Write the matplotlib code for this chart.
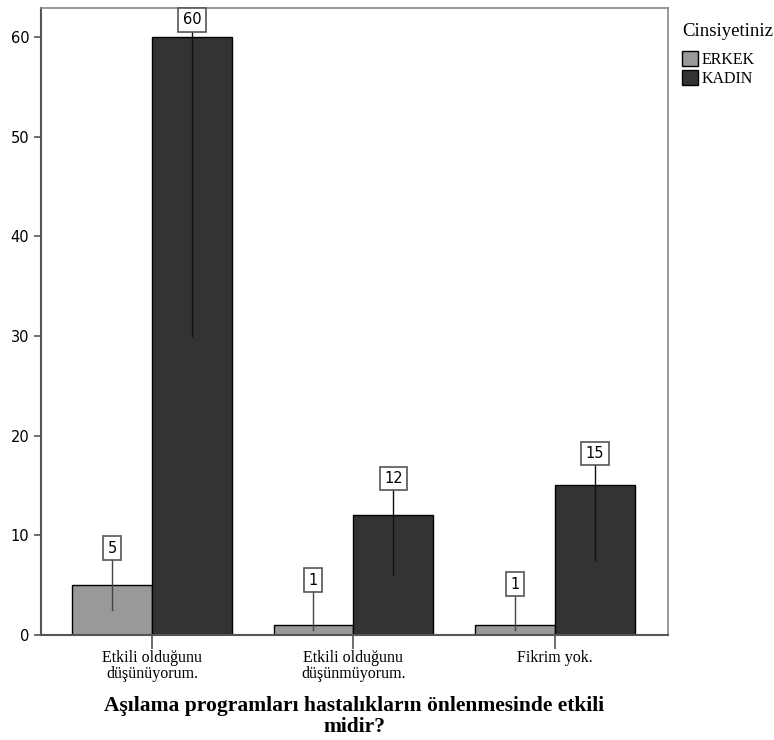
import matplotlib.pyplot as plt
from matplotlib.patches import Patch
import numpy as np

# Chart data
categories = ["Etkili olduğunu\ndüşünüyorum.", "Etkili olduğunu\ndüşünmüyorum.", "Fikrim yok."]
erkek = [5, 1, 1]
kadin = [60, 12, 15]
series_names = ["ERKEK", "KADIN"]
legend_title = "Cinsiyetiniz"
x_title = "Aşılama programları hastalıkların önlenmesinde etkili\nmidir?"

colors = ["#999999", "#333333"]
label_offsets = [[3.7, 4.5, 4.1], [1.7, 3.7, 3.2]]  # label height above bar

fig = plt.figure(figsize=(7.74, 7.40), dpi=100)
ax = fig.add_axes([41 / 774, 105 / 740, 627 / 774, 627 / 740])

x = np.arange(len(categories))
width = 0.397
for i, vals in enumerate([erkek, kadin]):
    pos = x + (i - 0.5) * width
    ax.bar(pos, vals, width, color=colors[i], edgecolor="black", linewidth=1.0, zorder=2)
    for px, v, off in zip(pos, vals, label_offsets[i]):
        ly = v + off
        ax.plot([px, px], [v / 2, ly], color="#444444" if i == 0 else "#111111",
                linewidth=1.0, zorder=3)
        ax.text(px, ly, str(v), ha="center", va="center", fontsize=10.5,
                family="DejaVu Sans", zorder=4,
                bbox=dict(boxstyle="square,pad=0.3", facecolor="white",
                          edgecolor="#555555", linewidth=1.2))

ax.set_xlim(-0.551, 2.561)
ax.set_ylim(0, 62.9)
ax.set_yticks([0, 10, 20, 30, 40, 50, 60])
ax.tick_params(axis="y", length=5, width=1.2, color="#555555", labelsize=10.5)
ax.set_xticks(x)
ax.set_xticklabels(categories, family="Liberation Serif", fontsize=11.5, linespacing=1.0)
ax.tick_params(axis="x", length=10, width=1.2, color="#555555", pad=1)

for side in ["left", "bottom"]:
    ax.spines[side].set_color("#555555")
    ax.spines[side].set_linewidth(1.5)
for side in ["top", "right"]:
    ax.spines[side].set_color("#888888")
    ax.spines[side].set_linewidth(1.2)

ax.set_xlabel(x_title, family="Liberation Serif", fontsize=15.5, fontweight="bold",
              labelpad=10, linespacing=1.05)

handles = [Patch(facecolor=c, edgecolor="black", label=n) for c, n in zip(colors, series_names)]
leg = fig.legend(handles=handles, title=legend_title, loc="upper left",
                 bbox_to_anchor=(671 / 774, 1 - 12 / 740), frameon=False,
                 prop={"family": "Liberation Serif", "size": 11.5},
                 handlelength=1.0, handleheight=1.0, handletextpad=0.2,
                 labelspacing=0.15, borderpad=0.2)
leg.get_title().set_family("Liberation Serif")
leg.get_title().set_fontsize(13.5)
leg._legend_box.align = "left"
leg._legend_box.sep = 8

plt.savefig("out.png", dpi=100)
